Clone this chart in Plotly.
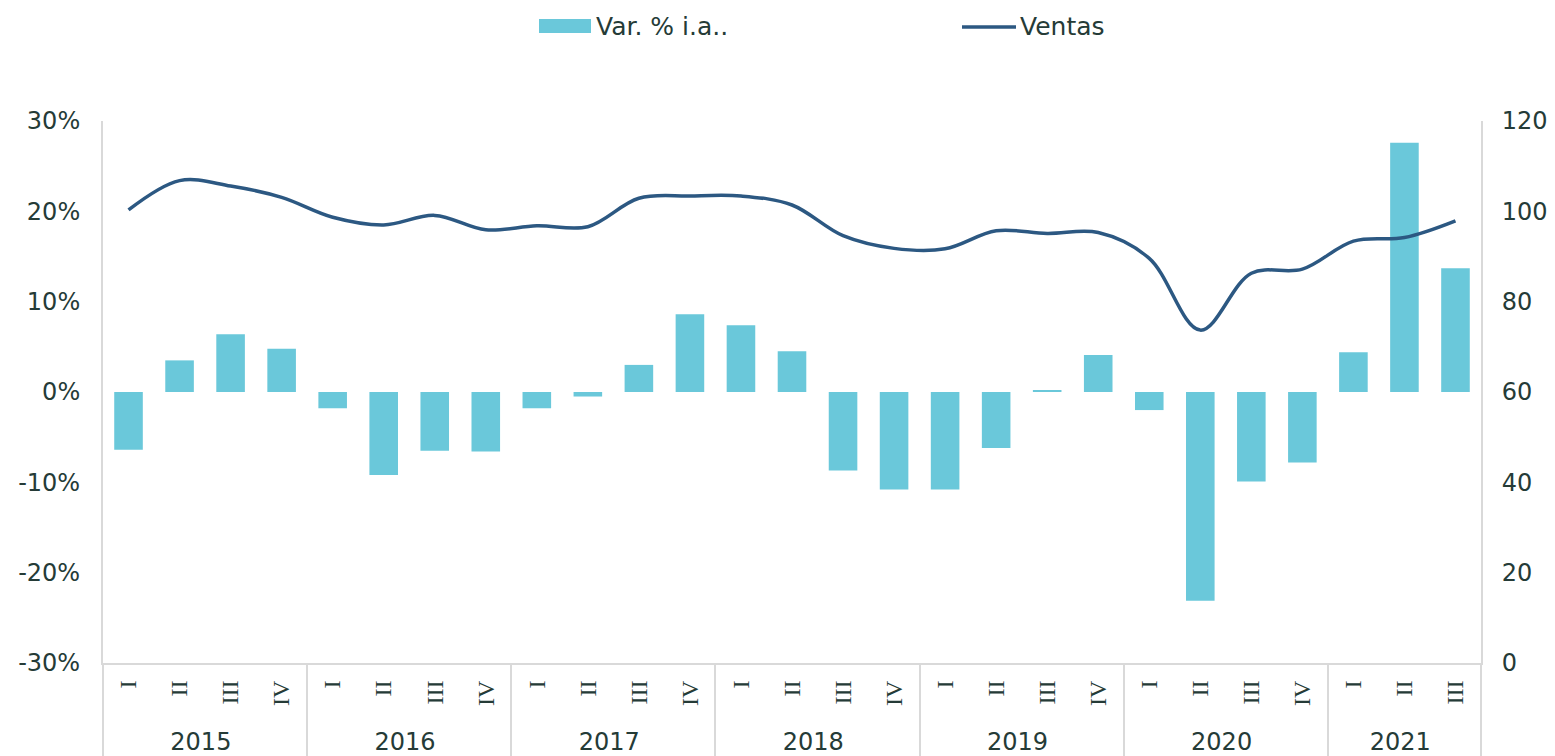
import plotly.graph_objects as go

years = ["2015"] * 4 + ["2016"] * 4 + ["2017"] * 4 + ["2018"] * 4 + ["2019"] * 4 + ["2020"] * 4 + ["2021"] * 3
quarters = ["I", "II", "III", "IV"] * 6 + ["I", "II", "III"]

var_ia = [-6.4, 3.5, 6.4, 4.8,
          -1.8, -9.2, -6.5, -6.6,
          -1.8, -0.5, 3.0, 8.6,
          7.4, 4.5, -8.7, -10.8,
          -10.8, -6.2, 0.2, 4.1,
          -2.0, -23.1, -9.9, -7.8,
          4.4, 27.6, 13.7]

ventas = [100.3, 106.8, 105.6, 103.1,
          98.7, 97.0, 99.1, 95.9,
          96.8, 96.6, 102.9, 103.4,
          103.4, 101.4, 94.6, 91.8,
          91.7, 95.7, 95.1, 95.3,
          89.6, 73.7, 86.3, 87.2,
          93.4, 94.2, 97.9]

y1_ticks = [-30, -20, -10, 0, 10, 20, 30]
y1_labels = [f"{v}%" for v in y1_ticks]
y2_ticks = [0, 20, 40, 60, 80, 100, 120]

BAR_COLOR = "#6ac8da"
LINE_COLOR = "#2c5882"
TEXT_COLOR = "#253b37"
AXIS_COLOR = "#d9d9d9"
FONT = "Verdana, DejaVu Sans, sans-serif"
QFONT = "Liberation Serif, serif"

# quarter labels get a serif face (as in the original I glyphs); years stay sans
q_labels = [f"<span style='font-family:{QFONT}'>\u2006{q}</span>" for q in quarters]

fig = go.Figure()
fig.add_trace(go.Bar(
    x=[years, q_labels], y=[v / 100 for v in var_ia], name="Var. % i.a..",
    marker=dict(color=BAR_COLOR, line=dict(width=0)),
    yaxis="y", showlegend=False,
))
fig.add_trace(go.Scatter(
    x=[years, q_labels], y=ventas, name="Ventas", mode="lines",
    line=dict(color=LINE_COLOR, width=3.5, shape="spline", smoothing=1.0),
    yaxis="y2", showlegend=False,
))

W, H = 1555, 756
L, R, T, B = 103, 74, 121, 93
pw, ph = W - L - R, H - T - B


def px(x):
    return (x - L) / pw


def py(y):
    return (H - B - y) / ph


shapes = [
    dict(type="rect", xref="paper", yref="paper",
         x0=px(539), x1=px(591), y0=py(33), y1=py(19),
         fillcolor=BAR_COLOR, line=dict(width=0)),
    dict(type="line", xref="paper", yref="paper",
         x0=px(962), x1=px(1016), y0=py(27), y1=py(27),
         line=dict(color=LINE_COLOR, width=3.5)),
]
annotations = [
    dict(text="Var. % i.a..", xref="paper", yref="paper", x=px(594), y=py(26),
         xanchor="left", yanchor="middle", showarrow=False,
         font=dict(size=25, color=TEXT_COLOR, family=FONT)),
    dict(text="Ventas", xref="paper", yref="paper", x=px(1018), y=py(26),
         xanchor="left", yanchor="middle", showarrow=False,
         font=dict(size=25, color=TEXT_COLOR, family=FONT)),
]

fig.update_layout(
    width=W, height=H,
    margin=dict(l=L, r=R, t=T, b=B, autoexpand=False),
    paper_bgcolor="white", plot_bgcolor="white",
    font=dict(family=FONT, size=24, color=TEXT_COLOR),
    bargap=0.44,
    shapes=shapes, annotations=annotations,
    xaxis=dict(
        type="multicategory", showline=True, linecolor=AXIS_COLOR, linewidth=2,
        showgrid=False, tickangle=-90, ticks="", ticklabelstandoff=6,
        showdividers=True, dividercolor=AXIS_COLOR, dividerwidth=2,
        tickfont=dict(size=24, color=TEXT_COLOR, family=FONT),
    ),
    yaxis=dict(
        range=[-0.3, 0.3], tickvals=[v / 100 for v in y1_ticks], ticktext=y1_labels,
        showgrid=False, zeroline=False, showline=True, linecolor=AXIS_COLOR, linewidth=2,
        ticks="", ticklabelstandoff=16,
        tickfont=dict(size=24, color=TEXT_COLOR, family=FONT),
    ),
    yaxis2=dict(
        range=[0, 120], tickvals=y2_ticks, overlaying="y", side="right",
        showgrid=False, zeroline=False, showline=True, linecolor=AXIS_COLOR, linewidth=2,
        ticks="", ticklabelstandoff=14,
        tickfont=dict(size=24, color=TEXT_COLOR, family=FONT),
    ),
)

fig.write_html(
    "out.html",
    config={"displayModeBar": False},
    post_script="document.body.style.margin='0';document.body.style.overflow='hidden';",
)
